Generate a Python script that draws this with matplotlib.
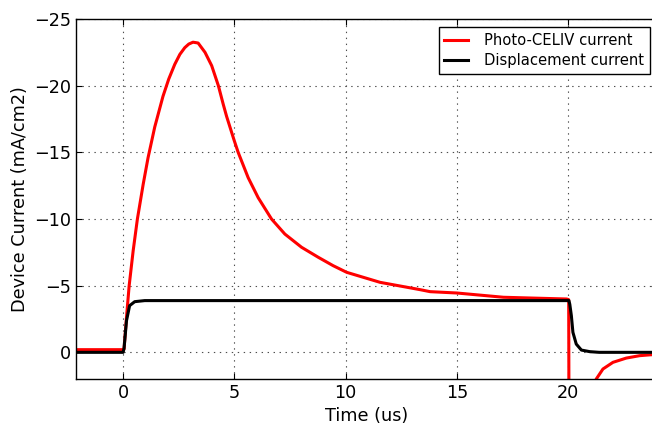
import numpy as np
import matplotlib
matplotlib.use('Agg')
import matplotlib.pyplot as plt

# photo-CELIV transient
celiv_t = [-2.2, -1.0, -0.02, 0.04, 0.15, 0.27, 0.45, 0.64, 0.9, 1.12, 1.42,
           1.79, 2.05, 2.32, 2.55, 2.77, 2.95, 3.14, 3.37, 3.68, 3.98, 4.28,
           4.5, 4.65, 4.99, 5.17, 5.62, 6.07, 6.67, 7.27, 8.02, 8.77, 9.44,
           10.05, 11.55, 13.35, 13.8, 15.0, 17.1, 19.94, 20.03, 20.05, 20.6,
           21.27, 21.57, 22.02, 22.62, 23.22, 23.74, 24.2]
celiv_j = [-0.2, -0.2, -0.2, -0.25, -2.63, -5.0, -7.62, -10.0, -12.6, -14.6,
           -16.9, -19.2, -20.5, -21.6, -22.35, -22.85, -23.12, -23.26, -23.2,
           -22.5, -21.5, -20.0, -18.6, -17.7, -15.9, -15.0, -13.1, -11.6,
           -10.0, -8.87, -7.88, -7.13, -6.5, -6.0, -5.25, -4.7, -4.55, -4.45,
           -4.13, -4.0, -3.95, 10.0, 5.0, 2.0, 1.25, 0.75, 0.43, 0.25, 0.18,
           0.16]

# displacement current (RC step)
disp_t = [-2.2, 0.0, 0.04, 0.15, 0.29, 0.52, 0.97, 20.04, 20.08, 20.15, 20.22,
          20.37, 20.6, 20.98, 21.4, 24.2]
disp_j = [0.0, 0.0, -0.3, -2.37, -3.5, -3.8, -3.88, -3.88, -3.6, -2.75, -1.5,
          -0.62, -0.17, -0.05, 0.0, 0.0]

plt.rcParams['font.size'] = 12.7
plt.rcParams['lines.scale_dashes'] = False

fig = plt.figure(figsize=(6.52, 4.28), dpi=100)
ax = fig.add_axes([76 / 652., 49 / 428., 581 / 652., 360 / 428.])

ax.plot(celiv_t, celiv_j, color='red', lw=2.2, label='Photo-CELIV current')
ax.plot(disp_t, disp_j, color='black', lw=2.2, label='Displacement current')

ax.set_xlim(-2.12, 24.0)
ax.set_ylim(2, -25)
ax.set_xticks([0, 5, 10, 15, 20])
ax.set_yticks([0, -5, -10, -15, -20, -25])

ax.grid(True, linestyle=(0, (1, 3.3)), color='0.3', linewidth=0.8)
ax.tick_params(direction='in', top=True, right=True, length=4, width=0.8)
for sp in ax.spines.values():
    sp.set_linewidth(1.0)

ax.set_xlabel('Time (us)')
ax.set_ylabel('Device Current (mA/cm2)')

leg = ax.legend(loc='upper right', bbox_to_anchor=(0.988, 0.978), fontsize=10.6,
                fancybox=False, framealpha=1.0, handlelength=1.6,
                handletextpad=1.1, borderpad=0.4, borderaxespad=0.0,
                labelspacing=0.35)
leg.get_frame().set_edgecolor('black')
leg.get_frame().set_linewidth(1.0)

fig.savefig('out.png', dpi=100)
